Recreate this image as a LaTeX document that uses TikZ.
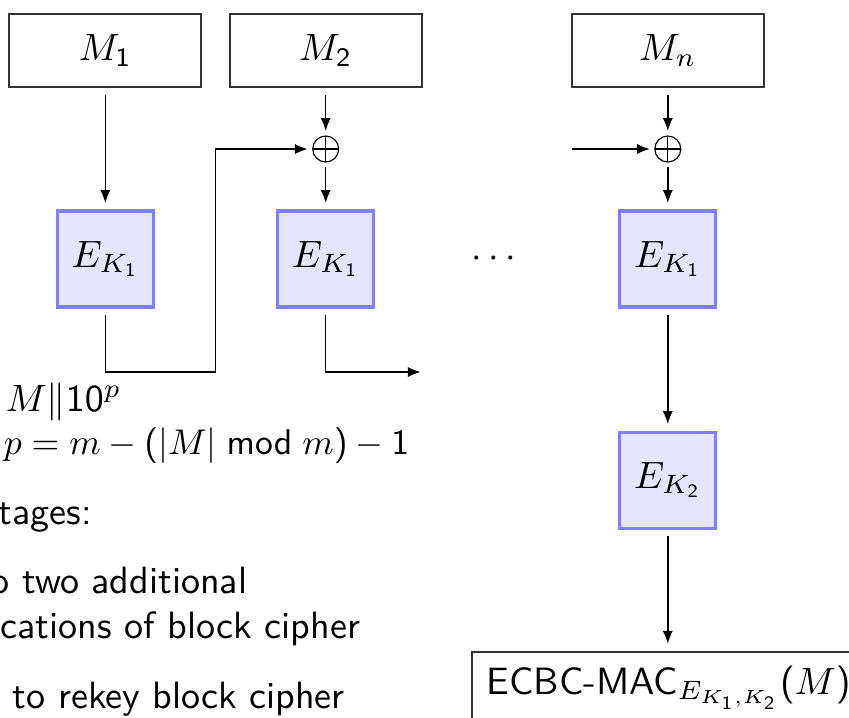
\documentclass[tikz,border=0pt]{standalone}
\usetikzlibrary{arrows.meta}
\renewcommand{\familydefault}{\sfdefault}
\DeclareSymbolFont{operators}{OT1}{cmss}{m}{n}
\newcommand\pxu{0.263pt}
\begin{document}
\begin{tikzpicture}[x=0.263pt,y=-0.263pt,
  msgbox/.style={draw=black!80,line width=0.45pt,minimum width=192*\pxu,minimum height=73*\pxu,inner sep=0pt,outer sep=8*\pxu},
  encbox/.style={draw=blue!50,fill=blue!10,line width=0.8pt,minimum width=96*\pxu,minimum height=96*\pxu,inner sep=0pt,outer sep=8*\pxu},
  xorsym/.style={circle,draw,line width=0.3pt,minimum size=26*\pxu,inner sep=0pt,outer sep=5*\pxu,
    path picture={\draw[line width=0.3pt] (path picture bounding box.north)--(path picture bounding box.south) (path picture bounding box.west)--(path picture bounding box.east);}},
  conn/.style={line width=0.4pt,-{Latex[length=3.4pt,width=2.7pt]}},
  tagbox/.style={draw=black!80,line width=0.45pt,anchor=north west,inner xsep=15*\pxu,inner ysep=14*\pxu,outer sep=8*\pxu},
  txt/.style={anchor=base west,inner sep=0pt}
]
\useasboundingbox (0,0) rectangle (849,717);
\clip (0,0) rectangle (849,717);
% message blocks
\node[msgbox] (m1) at (105.3,50.5) {$M_1$};
\node[msgbox] (m2) at (325.7,50.5) {$M_2$};
\node[msgbox] (mn) at (667.8,50.5) {$M_n$};
% xor
\node[xorsym] (x2) at (325.7,149) {};
\node[xorsym] (xn) at (667.8,149) {};
% encryption blocks
\node[encbox] (e1) at (105.3,259) {$E_{K_1}$};
\node[encbox] (e2) at (325.7,259) {$E_{K_1}$};
\node[encbox] (en) at (667.8,259) {$E_{K_1}$};
\node[encbox] (ek2) at (667.8,480) {$E_{K_2}$};
\node[anchor=base] (dots) at (493.7,267) {$\cdots$};
% tag
\node[tagbox] (tag) at (463.7,643.7) {ECBC-MAC$_{E_{K_1,K_2}}(M)$};
% connectors
\draw[conn] (m1) -- (e1);
\draw[conn] (m2) -- (x2);
\draw[conn] (x2) -- (e2);
\draw[conn] (mn) -- (xn);
\draw[conn] (xn) -- (en);
\draw[conn] (en) -- (ek2);
\draw[conn] (ek2.south) -- (ek2.south |- tag.north);
\coordinate (c1) at (215.7,372);
\draw[conn] (e1.south) |- (c1) |- (x2.west);
\coordinate (o2) at (420.7,372);
\draw[conn] (e2.south) |- (o2);
\coordinate (cin) at (572.3,149);
\draw[conn] (cin) -- (xn.west);
% text
\node[txt] (l1) at (5,411.5) {$M\|10^p$};
\node[txt] (l2) at (3,454) {\scalebox{0.94}{$p=m-(|M|\bmod m)-1$}};
\node[txt] (l3) at (-2,524) {tages:};
\node[txt] (l4) at (-10,593) {o two additional};
\node[txt] (l5) at (0,638) {cations of block cipher};
\node[txt] (l6) at (12,708) {to rekey block cipher};
\end{tikzpicture}
\end{document}
